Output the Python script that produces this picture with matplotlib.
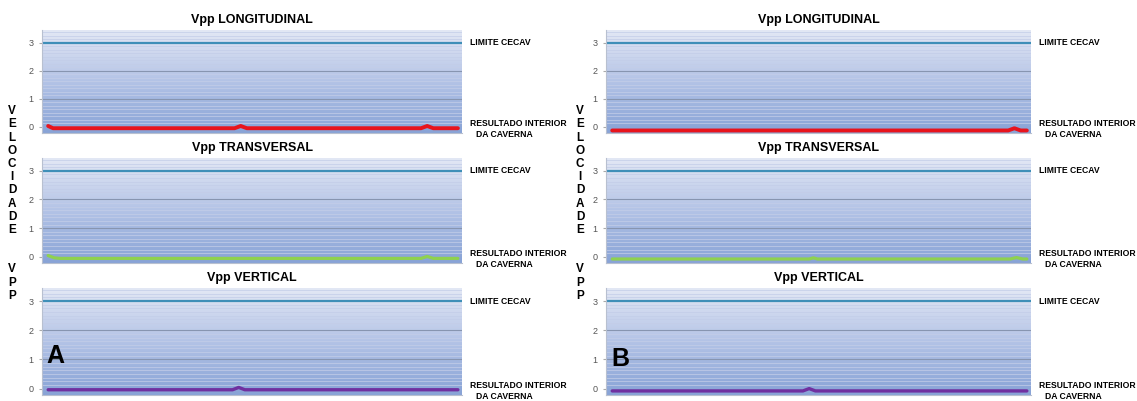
import numpy as np
import matplotlib
matplotlib.use("Agg")
import matplotlib.pyplot as plt
from matplotlib.colors import LinearSegmentedColormap
import matplotlib.transforms as mtransforms

plt.rcParams['font.family'] = ['Liberation Sans', 'DejaVu Sans']

# ---- data ----
titles = ["Vpp LONGITUDINAL", "Vpp TRANSVERSAL", "Vpp VERTICAL"]
yticks = [0, 1, 2, 3]
limite_cecav = 3.0

# panel A
a_long_x = [0, 1.2, 45.5, 47, 48.5, 91, 92.5, 94, 100]
a_long_y = [0.03, -0.05, -0.05, 0.03, -0.05, -0.05, 0.03, -0.05, -0.05]
a_trans_x = [0, 1.5, 3, 91, 92.5, 94, 100]
a_trans_y = [0.04, -0.04, -0.06, -0.06, 0.01, -0.06, -0.06]
a_vert_x = [0, 45, 46.5, 48, 100]
a_vert_y = [-0.04, -0.04, 0.04, -0.04, -0.04]

# panel B
b_long_x = [0, 95.5, 97, 98.5, 100]
b_long_y = [-0.13, -0.13, -0.05, -0.13, -0.13]
b_trans_x = [0, 47.5, 48.5, 49.5, 96, 97.5, 99, 100]
b_trans_y = [-0.08, -0.08, -0.04, -0.08, -0.08, -0.03, -0.08, -0.08]
b_vert_x = [0, 46, 47.5, 49, 100]
b_vert_y = [-0.08, -0.08, 0.0, -0.08, -0.08]

series_colors = ["#e8141c", "#8fd14f", "#7030a0"]
series_widths = [2.8, 2.3, 2.4]

panels = [
    ("A", [(a_long_x, a_long_y), (a_trans_x, a_trans_y), (a_vert_x, a_vert_y)]),
    ("B", [(b_long_x, b_long_y), (b_trans_x, b_trans_y), (b_vert_x, b_vert_y)]),
]

# ---- layout in pixels ----
W, H = 1137, 401
panel_x = [(42, 462), (606, 1031)]
row_y = [(30, 133), (158, 263), (288, 395)]
ylo, yhi = -0.22, 3.45

bg = LinearSegmentedColormap.from_list("bg", ["#88a3d6", "#b3c3e6", "#e3e8f5"])

fig = plt.figure(figsize=(W / 100, H / 100), dpi=100)


def box(x0, x1, y0, y1):
    return [x0 / W, 1 - y1 / H, (x1 - x0) / W, (y1 - y0) / H]


for p, (letter, series) in enumerate(panels):
    px0, px1 = panel_x[p]
    for r, (xs, ys) in enumerate(series):
        ry0, ry1 = row_y[r]
        ax = fig.add_axes(box(px0, px1, ry0, ry1))
        ax.set_xlim(-1.5, 101)
        ax.set_ylim(ylo, yhi)
        grad = np.linspace(0, 1, 256).reshape(-1, 1)
        ax.imshow(grad, extent=[-1.5, 101, ylo, yhi], origin="lower",
                  aspect="auto", cmap=bg, zorder=0)
        for v in np.arange(0.125, yhi, 0.125):
            if abs(v - round(v)) > 1e-6:
                ax.axhline(v, color="#c3cde8", lw=0.6, alpha=0.85, zorder=1)
        for v in [1, 2]:
            ax.axhline(v, color="#8795b0", lw=0.8, zorder=1)
        ax.axhline(limite_cecav, color="#3f8fb8", lw=1.6, zorder=2)
        ax.plot(xs, ys, color=series_colors[r], lw=series_widths[r],
                solid_capstyle="round", zorder=3)

        ax.set_yticks(yticks)
        ax.set_xticks([])
        ax.tick_params(axis="y", labelsize=6.5, labelcolor="#555555",
                       length=2, color="#aaaaaa", pad=4)
        for s in ["top", "right"]:
            ax.spines[s].set_visible(False)
        for s in ["left", "bottom"]:
            ax.spines[s].set_color("#b8c0d0")
            ax.spines[s].set_linewidth(0.8)

        ax.set_title(titles[r], fontsize=9, fontweight="bold", pad=5)

        tr = mtransforms.blended_transform_factory(ax.transAxes, ax.transData)
        ax.text(1.018, limite_cecav, "LIMITE CECAV", transform=tr,
                fontsize=6.2, fontweight="bold", va="center", ha="left")
        ax.text(1.018, -0.05, "RESULTADO INTERIOR", transform=tr,
                fontsize=6.2, fontweight="bold", va="bottom", ha="left")
        ax.text(1.1, -0.12, "DA CAVERNA", transform=tr,
                fontsize=6.2, fontweight="bold", va="top", ha="center")

    # vertical axis label, one letter per line
    lx = 12 if p == 0 else 580
    fig.text(lx / W, 1 - 203.5 / H, "\n".join("VELOCIDADE  VPP"),
             fontsize=8.5, fontweight="bold", ha="center", va="center",
             linespacing=1.13)

# panel letters
fig.text(55 / W, 1 - 356 / H, "A", fontsize=18, fontweight="bold",
         ha="center", va="center")
fig.text(620 / W, 1 - 359 / H, "B", fontsize=18, fontweight="bold",
         ha="center", va="center")

fig.savefig("out.png", dpi=100)
